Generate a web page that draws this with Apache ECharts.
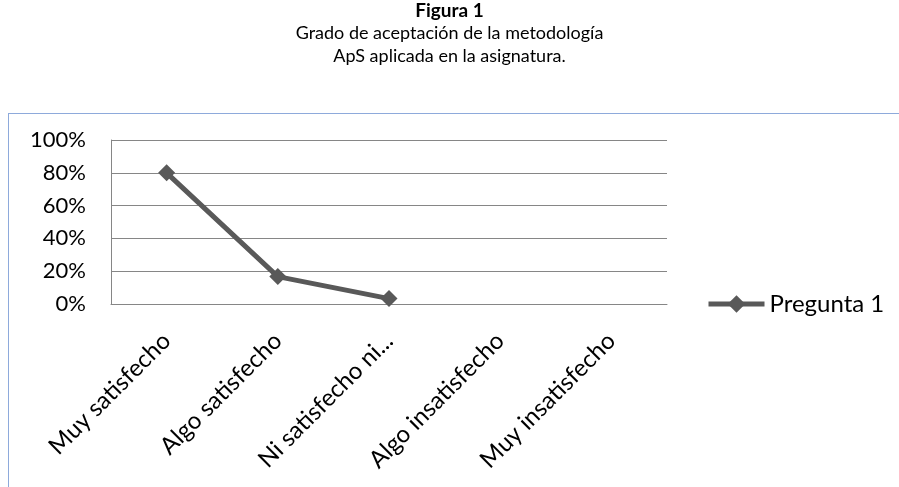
<!DOCTYPE html>
<html>
<head>
<meta charset="utf-8">
<script src="https://cdn.jsdelivr.net/npm/echarts@6/dist/echarts.min.js"></script>
<style>
  html, body { margin: 0; padding: 0; background: #fff; }
  #wrap { position: relative; width: 899px; height: 487px; }
  #frame {
    position: absolute; left: 8px; top: 113px; right: -2px; bottom: -2px;
    border-top: 1px solid #8eaadb; border-left: 1px solid #8eaadb;
  }
  #chart { position: absolute; left: 0; top: 0; width: 899px; height: 487px; }
</style>
</head>
<body>
<div id="wrap">
  <div id="frame"></div>
  <div id="chart"></div>
</div>
<script>
const categories = ["Muy satisfecho", "Algo satisfecho", "Ni satisfecho ni...", "Algo insatisfecho", "Muy insatisfecho"];
const pregunta1 = [0.80, 0.167, 0.033, null, null];

const fontFam = "Lato, 'Open Sans', sans-serif";
const chart = echarts.init(document.getElementById("chart"), null, { renderer: "canvas" });

chart.setOption({
  animation: false,
  title: [
    {
      text: "Figura 1",
      left: "center",
      top: 0,
      padding: 0,
      textStyle: { fontFamily: fontFam, fontSize: 19, fontWeight: "bold", color: "#000", lineHeight: 22 }
    },
    {
      text: "Grado de aceptación de la metodología\nApS aplicada en la asignatura.",
      left: "center",
      top: 22,
      padding: 0,
      textStyle: { fontFamily: fontFam, fontSize: 18, fontWeight: "normal", color: "#000", lineHeight: 23 }
    }
  ],
  legend: {
    data: ["Pregunta 1"],
    left: 706,
    top: 292,
    padding: 0,
    itemWidth: 56,
    itemHeight: 22,
    itemGap: 2,
    lineStyle: { width: 5 },
    textStyle: { fontFamily: fontFam, fontSize: 24, color: "#000" }
  },
  grid: { left: 111, right: 232, top: 140, bottom: 183, containLabel: false },
  xAxis: {
    type: "category",
    data: categories,
    boundaryGap: true,
    axisLine: { show: true, lineStyle: { color: "#868686", width: 1 } },
    axisTick: { show: false },
    axisLabel: {
      interval: 0,
      rotate: 45,
      margin: 33,
      fontFamily: fontFam,
      fontSize: 24,
      color: "#000"
    }
  },
  yAxis: {
    type: "value",
    min: 0,
    max: 1,
    interval: 0.2,
    axisLine: { show: true, lineStyle: { color: "#868686", width: 1 } },
    axisTick: { show: false },
    splitLine: { show: true, lineStyle: { color: "#868686", width: 1 } },
    axisLabel: {
      margin: 25,
      fontFamily: fontFam,
      fontSize: 22,
      color: "#000",
      formatter: v => Math.round(v * 100) + "%"
    }
  },
  series: [
    {
      name: "Pregunta 1",
      type: "line",
      data: pregunta1,
      symbol: "diamond",
      symbolSize: 17,
      showSymbol: true,
      connectNulls: false,
      itemStyle: { color: "#595959" },
      lineStyle: { color: "#595959", width: 5 }
    }
  ]
});
</script>
</body>
</html>
